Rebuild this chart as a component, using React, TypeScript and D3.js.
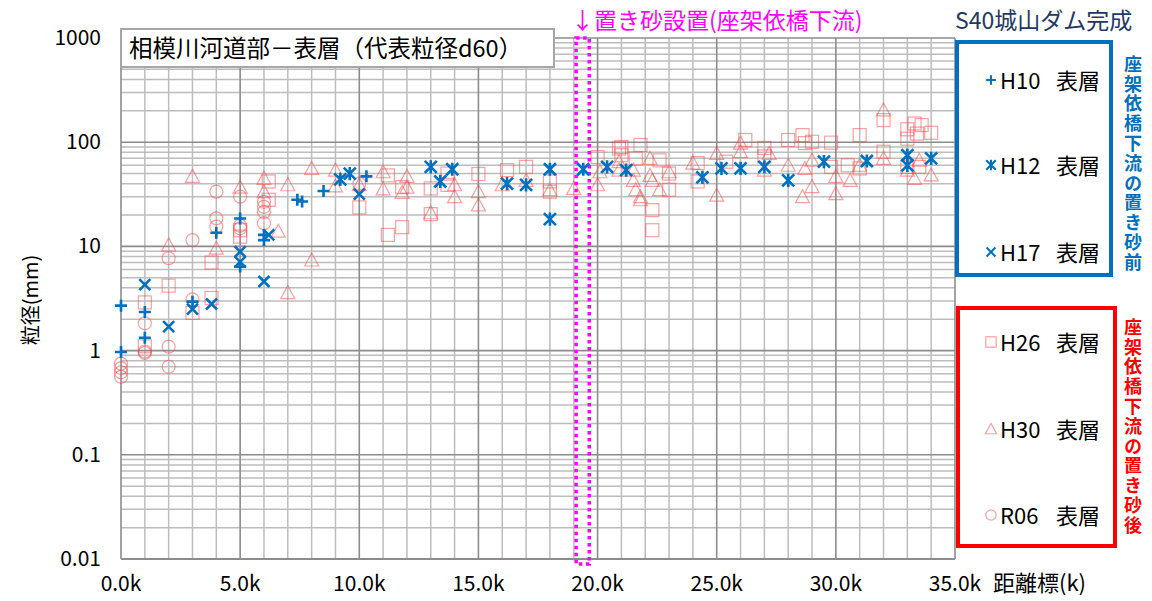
import React from "react";
import * as d3 from "d3";

// ---- data: [distance k, d60 mm] ----
const h10: [number, number][] = [
  [0, 2.7], [0, 0.97], [1, 2.35], [1, 1.33], [3, 2.95], [4, 13.5], [5, 18.5], [5, 6.4],
  [6, 12.9], [6, 11.5], [7.4, 28], [7.6, 27], [8.5, 34], [10.3, 47],
];
const h12: [number, number][] = [
  [9.2, 44], [9.6, 50], [13.0, 58], [13.4, 42], [13.9, 55], [16.2, 40], [17.0, 39], [18.0, 55],
  [18.0, 18.3], [19.4, 55], [20.4, 58], [21.2, 54], [24.4, 46], [25.2, 56], [26.0, 56], [27.0, 58],
  [28.0, 43], [29.5, 65], [31.3, 66], [33.0, 75], [33.0, 60], [34.0, 70],
];
const h17: [number, number][] = [
  [1, 4.3], [2, 1.7], [3, 2.5], [3.8, 2.8], [5, 8.9], [5, 7.1], [6, 4.6], [6.2, 12.9], [10, 31.8],
];
const h26: [number, number][] = [
  [1, 2.9], [1, 1.1], [2, 4.2], [3, 2.3], [3.8, 3.2], [3.8, 7.0], [5, 14.3], [5, 12.4], [6.2, 42],
  [6.2, 28], [10, 23.7], [11.2, 12.9], [11.8, 15.3], [11.2, 48], [11.8, 37], [13, 36], [13, 20.4],
  [13.7, 50], [13.7, 39], [15, 49.5], [16.2, 54], [17, 58], [18, 33.5], [18, 42], [20, 72],
  [20.9, 87], [21, 90], [21, 75], [21.8, 94], [21.6, 70], [22.6, 67], [23, 50], [23, 35],
  [22.3, 22.3], [22.3, 14.3], [24.2, 63], [24.2, 42], [25.4, 65], [26.2, 105], [27, 88], [27, 73],
  [28, 105], [28.6, 117], [28.7, 98], [29, 101], [29.8, 99], [29.8, 58], [31, 117], [31, 56],
  [30.5, 60], [32, 163], [32, 81], [33, 133], [33, 108], [33, 58], [33.3, 151], [33.6, 146],
  [34, 123], [33.4, 121], [33.5, 58],
];
const h30: [number, number][] = [
  [2, 10.3], [3, 47], [4, 9.6], [5, 37], [6, 45], [6, 33.5], [6.6, 14], [7, 39], [7, 3.6], [8, 56],
  [8, 7.4], [9, 54], [9, 38], [10, 39], [11, 52], [11, 35.6], [12, 47], [12, 37], [11.8, 33],
  [13, 21], [14, 39], [14, 30], [15, 33.5], [15, 25], [16, 39], [17, 43], [18, 35], [19, 36],
  [20, 39], [20.1, 52], [20.9, 54], [20.9, 65], [21.5, 43], [21.6, 35], [21.8, 30], [21.8, 28],
  [22.2, 70], [22.2, 48], [22.3, 43], [21.5, 54], [22.6, 35], [23, 52], [24, 63], [25, 78],
  [25, 31], [26, 98], [26, 81], [27, 54], [27.2, 78], [28, 60], [28.6, 30], [28.7, 56], [29, 67],
  [29, 37.5], [30, 47], [30, 32], [30.6, 43], [31, 60], [32, 204], [32, 70], [33.3, 45],
  [33.5, 67], [34, 48.5], [33, 54],
];
const r06: [number, number][] = [
  [0, 0.75], [0, 0.68], [0, 0.62], [0, 0.56], [1, 1.83], [1, 0.98], [1, 0.95], [2, 7.7], [2, 1.09],
  [2, 0.7], [3, 11.5], [3, 3.1], [4, 33.5], [4, 18.6], [4, 15.5], [5, 30], [5, 15.8], [5, 14.9],
  [6, 26.8], [6, 24], [6, 21.4], [6, 16.7], [10, 40],
];

const yTicks = [1000, 100, 10, 1, 0.1, 0.01];
const yTickLabels = ["1000", "100", "10", "1", "0.1", "0.01"];
const xTicks = [0, 5, 10, 15, 20, 25, 30, 35];
const xTickLabels = ["0.0k", "5.0k", "10.0k", "15.0k", "20.0k", "25.0k", "30.0k", "35.0k"];
const placementRange: [number, number] = [19.1, 19.65];

const title = "相模川河道部－表層（代表粒径d60）";
const placementNote = "↓置き砂設置(座架依橋下流)";
const damNote = "S40城山ダム完成";
const beforeLabel = "座架依橋下流の置き砂前";
const afterLabel = "座架依橋下流の置き砂後";
const seriesCodes = ["H10", "H12", "H17", "H26", "H30", "R06"];
const layerName = "表層";

const BLUE = "#0070C0";
const PINK = "#FF4040";
const FONT = "'Noto Sans CJK JP', 'Noto Sans', sans-serif";

const L = 121, R = 955, T = 38, B = 559;
const x = d3.scaleLinear().domain([0, 35]).range([L, R]);
const y = d3.scaleLog().domain([0.01, 1000]).range([B, T]);

type Kind = "plus" | "star" | "cross" | "square" | "tri" | "circle";

function Marker({ kind, cx, cy, s = 1 }: { kind: Kind; cx: number; cy: number; s?: number }) {
  const blue = { stroke: BLUE, strokeWidth: 2.6 * s, fill: "none" };
  const pink = { stroke: PINK, strokeWidth: 1.2, strokeOpacity: 0.5, fill: "none" };
  if (kind === "plus") {
    const a = 6 * s;
    return <path d={`M${cx - a},${cy}H${cx + a}M${cx},${cy - a}V${cy + a}`} {...blue} />;
  }
  if (kind === "cross") {
    const a = 5.5 * s;
    return <path d={`M${cx - a},${cy - a}L${cx + a},${cy + a}M${cx - a},${cy + a}L${cx + a},${cy - a}`} {...blue} />;
  }
  if (kind === "star") {
    const a = 6 * s;
    return (
      <path
        d={`M${cx - a},${cy - a}L${cx + a},${cy + a}M${cx - a},${cy + a}L${cx + a},${cy - a}M${cx},${cy - a * 1.1}V${cy + a * 1.1}`}
        {...blue}
      />
    );
  }
  if (kind === "square") {
    const a = 6.5 * s;
    return <rect x={cx - a} y={cy - a} width={2 * a} height={2 * a} {...pink} />;
  }
  if (kind === "tri") {
    const a = 7 * s;
    return <path d={`M${cx},${cy - a}L${cx + a},${cy + a * 0.85}L${cx - a},${cy + a * 0.85}Z`} {...pink} />;
  }
  return <circle cx={cx} cy={cy} r={6.5 * s} {...pink} />;
}

const series: { data: [number, number][]; kind: Kind }[] = [
  { data: h26, kind: "square" },
  { data: h30, kind: "tri" },
  { data: r06, kind: "circle" },
  { data: h10, kind: "plus" },
  { data: h12, kind: "star" },
  { data: h17, kind: "cross" },
];

export default function App() {
  const minorY: number[] = [];
  for (let e = -2; e < 3; e++) for (let m = 2; m <= 9; m++) minorY.push(m * Math.pow(10, e));
  const vLines = d3.range(0, 36);

  const vertText = (txt: string, cx: number, y0: number, color: string) => (
    <text
      x={cx}
      y={y0}
      fontSize={18}
      fontWeight="bold"
      fill={color}
      fontFamily={FONT}
      letterSpacing={1.8}
      style={{ writingMode: "vertical-rl" as any }}
    >
      {txt}
    </text>
  );

  const kinds: Kind[] = ["plus", "star", "cross", "square", "tri", "circle"];
  const legendYs = [81, 166, 253, 343, 430, 516];

  return (
    <svg width={1152} height={601} style={{ position: "absolute", left: 0, top: 0, background: "#fff" }}>
      <rect width={1152} height={601} fill="#fff" />
      {/* grid */}
      {minorY.map((v, i) => (
        <line key={"my" + i} x1={L} x2={R} y1={y(v)} y2={y(v)} stroke="#bdbdbd" strokeWidth={1.5} />
      ))}
      {vLines.filter((k) => k % 5 !== 0).map((k) => (
        <line key={"vx" + k} x1={x(k)} x2={x(k)} y1={T} y2={B} stroke="#bdbdbd" strokeWidth={1.5} />
      ))}
      {yTicks.map((v) => (
        <line key={"Y" + v} x1={L} x2={R} y1={y(v)} y2={y(v)} stroke="#8c8c8c" strokeWidth={1.6} />
      ))}
      {vLines.filter((k) => k % 5 === 0).map((k) => (
        <line key={"VX" + k} x1={x(k)} x2={x(k)} y1={T} y2={B} stroke="#8c8c8c" strokeWidth={1.6} />
      ))}
      <line x1={L} x2={R} y1={B} y2={B} stroke="#8c8c8c" strokeWidth={2} />

      {/* placement band */}
      <rect
        x={x(placementRange[0])}
        y={T}
        width={x(placementRange[1]) - x(placementRange[0])}
        height={B + 5 - T}
        fill="none"
        stroke="#FF00FF"
        strokeWidth={3.5}
        strokeDasharray="3.5,3.5"
      />

      {/* data */}
      {series.map((s, si) =>
        s.data.map((d, i) => <Marker key={si + "-" + i} kind={s.kind} cx={x(d[0])} cy={y(d[1])} />)
      )}

      {/* axes labels */}
      {yTicks.map((v, i) => (
        <text key={"yl" + v} x={101} y={y(v) + 7} textAnchor="end" fontSize={21} fontFamily={FONT} fill="#000">
          {yTickLabels[i]}
        </text>
      ))}
      {xTicks.map((k, i) => (
        <text key={"xl" + k} x={x(k)} y={591} textAnchor="middle" fontSize={21} fontFamily={FONT} fill="#000">
          {xTickLabels[i]}
        </text>
      ))}
      <text x={993} y={591} fontSize={22} fontFamily={FONT} fill="#000">距離標(k)</text>
      <text transform="translate(38,300) rotate(-90)" textAnchor="middle" fontSize={20} fontFamily={FONT} fill="#000">
        粒径(mm)
      </text>

      {/* title box */}
      <rect x={121} y={29} width={433} height={38} fill="#fff" stroke="#a6a6a6" strokeWidth={2} />
      <text x={129} y={57} fontSize={23.5} fontFamily={FONT} fill="#000">{title}</text>

      {/* annotations */}
      <text x={571} y={29} fontSize={23} fontFamily={FONT} fill="#FF00FF">{placementNote}</text>
      <text x={955} y={29} fontSize={23} fontFamily={FONT} fill="#1F3864">{damNote}</text>

      {/* legends */}
      <rect x={957} y={42} width={154} height={233} fill="#fff" stroke={BLUE} strokeWidth={4} />
      <rect x={958} y={308} width={157} height={238} fill="#fff" stroke="#FF0000" strokeWidth={4} />
      {kinds.map((k, i) => (
        <g key={"lg" + i}>
          <Marker kind={k} cx={991} cy={legendYs[i] - 1} s={0.8} />
          <text x={1000} y={legendYs[i] + 8} fontSize={22} fontFamily={FONT} fill="#000">{seriesCodes[i]}</text>
          <text x={1056} y={legendYs[i] + 8} fontSize={22} fontFamily={FONT} fill="#000">{layerName}</text>
        </g>
      ))}
      {vertText(beforeLabel, 1133, 55, BLUE)}
      {vertText(afterLabel, 1133, 318, "#FF0000")}
    </svg>
  );
}
